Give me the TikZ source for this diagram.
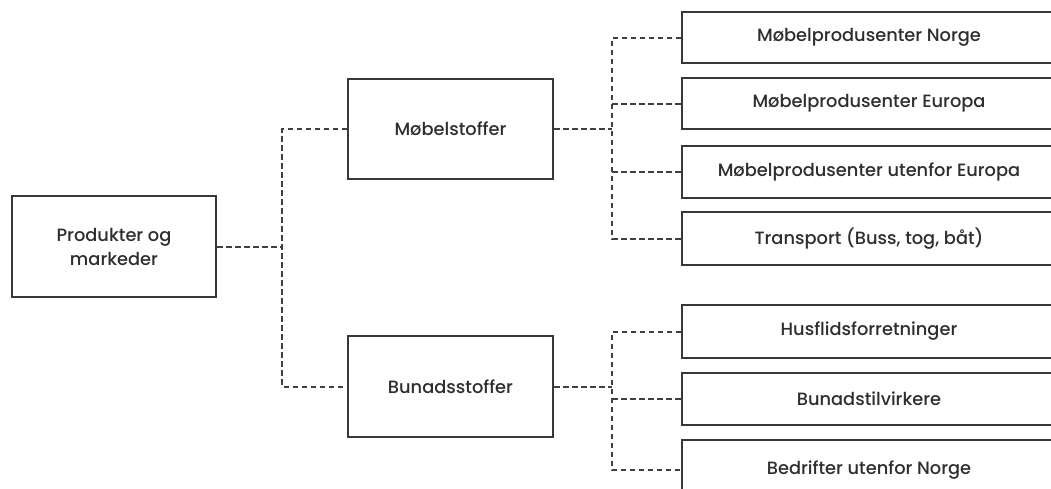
\documentclass[tikz,border=0pt]{standalone}
\usepackage{fontspec}
\setmainfont{Poppins}[UprightFont={* Medium}]
\begin{document}
\begin{tikzpicture}[x=1pt,y=-1pt,
  box/.style={draw=black!78,line width=2pt,fill=white,text=black!82,font=\fontsize{17.8}{24}\selectfont,inner sep=0pt,align=center},
  conn/.style={draw=black!75,line width=2pt,dash pattern=on 5.5pt off 3.5pt}]
\useasboundingbox (0,0) rectangle (1051,488);
\clip (0,0) rectangle (1051,488);
\node[box,minimum width=204pt,minimum height=101pt] (prod) at (114,246.5) {Produkter og\\markeder};
\node[box,minimum width=205pt,minimum height=100pt] (mob) at (450.5,129) {Møbelstoffer};
\node[box,minimum width=205pt,minimum height=101pt] (bun) at (450.5,386.5) {Bunadsstoffer};
\node[box,minimum width=374pt,minimum height=51pt] (n1) at (869,37.5) {Møbelprodusenter Norge};
\node[box,minimum width=374pt,minimum height=51pt] (n2) at (869,103.5) {Møbelprodusenter Europa};
\node[box,minimum width=374pt,minimum height=52pt] (n3) at (869,172) {Møbelprodusenter utenfor Europa};
\node[box,minimum width=374pt,minimum height=53pt] (n4) at (869,238.5) {Transport (Buss, tog, båt)};
\node[box,minimum width=374pt,minimum height=53pt] (b1) at (869,331.5) {Husflidsforretninger};
\node[box,minimum width=374pt,minimum height=52pt] (b2) at (869,399) {Bunadstilvirkere};
\node[box,minimum width=374pt,minimum height=60pt] (b3) at (869,470) {Bedrifter utenfor Norge};
\coordinate (jL) at (282,0);
\coordinate (jA) at (612,0);
\draw[conn] (prod.east) -- (jL |- prod.east);
\draw[conn] (mob.west) -- (jL |- mob.west) -- (jL |- bun.west) -- (bun.west);
\draw[conn] (mob.east) -- (jA |- mob.east);
\draw[conn] (n1.west) -- (jA |- n1.west) -- (jA |- n4.west) -- (n4.west);
\draw[conn] (jA |- n2.west) -- (n2.west);
\draw[conn] (jA |- n3.west) -- (n3.west);
\draw[conn] (bun.east) -- (jA |- bun.east);
\draw[conn] (b1.west) -- (jA |- b1.west) -- (jA |- b3.west) -- (b3.west);
\draw[conn] (jA |- b2.west) -- (b2.west);
\end{tikzpicture}
\end{document}
